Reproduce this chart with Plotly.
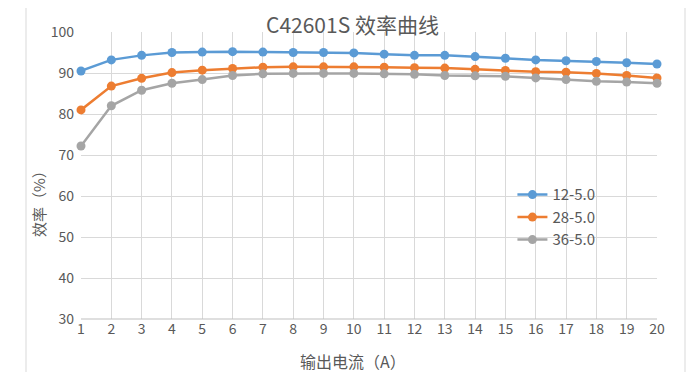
import plotly.graph_objects as go

current = list(range(1, 21))
eff_12 = [90.5, 93.2, 94.3, 95.0, 95.1, 95.2, 95.1, 95.0, 95.0, 94.9,
          94.6, 94.3, 94.3, 94.0, 93.6, 93.2, 93.0, 92.8, 92.5, 92.2]
eff_28 = [81.0, 86.8, 88.7, 90.1, 90.7, 91.1, 91.4, 91.5, 91.5, 91.5,
          91.4, 91.3, 91.2, 90.9, 90.6, 90.3, 90.2, 89.9, 89.4, 88.8]
eff_36 = [72.2, 82.0, 85.8, 87.5, 88.4, 89.4, 89.8, 89.9, 89.9, 89.9,
          89.8, 89.7, 89.4, 89.3, 89.2, 88.8, 88.4, 88.0, 87.8, 87.5]
series_names = ["12-5.0", "28-5.0", "36-5.0"]
colors = ["#5B9BD5", "#ED7D31", "#A5A5A5"]

FONT = "Noto Sans CJK SC"
TXT = "#595959"

fig = go.Figure()
for name, vals, col in zip(series_names, [eff_12, eff_28, eff_36], colors):
    fig.add_trace(go.Scatter(
        x=current, y=vals, name=name, mode="lines+markers",
        line=dict(color=col, width=2.5),
        marker=dict(color=col, size=9),
        cliponaxis=False,
    ))

# page body has an 8px default margin; positions below compensate for it
fig.update_layout(
    width=687, height=364,
    margin=dict(l=73, r=38, t=24, b=53),
    paper_bgcolor="white", plot_bgcolor="white",
    font=dict(family=FONT, color=TXT, size=13),
    showlegend=True,
    legend=dict(x=0.749, y=0.49, xanchor="left", yanchor="top",
                bgcolor="rgba(0,0,0,0)", font=dict(size=15, color=TXT),
                itemwidth=30, tracegroupgap=0),
    xaxis=dict(range=[1, 20], tickmode="array", tickvals=current,
               showgrid=True, gridcolor="#d9d9d9", gridwidth=1,
               zeroline=False, showline=False, ticks="",
               tickfont=dict(size=14, color=TXT)),
    yaxis=dict(range=[30, 100], dtick=10, showgrid=True,
               gridcolor="#d9d9d9", gridwidth=1, zeroline=False,
               showline=False, ticks="", ticklabelstandoff=6,
               tickfont=dict(size=14, color=TXT)),
    annotations=[
        dict(text="C42601S 效率曲线", xref="paper", yref="paper",
             x=(352 - 81) / 576, y=(319 - 8.5) / 287, xanchor="center",
             yanchor="top", showarrow=False, borderpad=0,
             font=dict(size=21, color=TXT, family=FONT)),
        dict(text="输出电流（A）", xref="paper", yref="paper",
             x=(353 - 81) / 576, y=(319 - 361) / 287, xanchor="center",
             yanchor="middle", showarrow=False,
             font=dict(size=16, color=TXT, family=FONT)),
        dict(text="效率（%）", xref="paper", yref="paper",
             x=(38 - 81) / 576, y=(319 - 200) / 287, xanchor="center",
             yanchor="middle", showarrow=False, textangle=-90,
             font=dict(size=15, color=TXT, family=FONT)),
    ],
    shapes=[
        dict(type="line", xref="paper", yref="paper",
             x0=0, x1=1, y0=0, y1=0, line=dict(color="#bfbfbf", width=1)),
        dict(type="line", xref="paper", yref="paper",
             x0=(26 - 81) / 576, x1=(26 - 81) / 576, y0=-0.2, y1=1.12,
             line=dict(color="#d9d9d9", width=1)),
        dict(type="line", xref="paper", yref="paper",
             x0=(685 - 81) / 576, x1=(685 - 81) / 576, y0=-0.2, y1=1.12,
             line=dict(color="#d9d9d9", width=1)),
    ],
)

fig.write_html("out.html")
